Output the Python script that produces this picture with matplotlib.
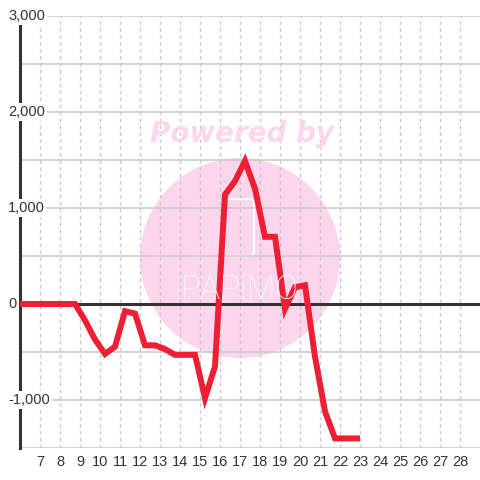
import matplotlib.pyplot as plt
from matplotlib.patches import Circle, FancyBboxPatch

plt.rcParams['font.family'] = ['Liberation Sans', 'DejaVu Sans']

# data (x in days, y values)
x = [5.75, 6.25, 6.75, 7.25, 7.75, 8.25, 8.75, 9.25, 9.75, 10.25, 10.75, 11.25, 11.75,
     12.25, 12.75, 13.25, 13.75, 14.25, 14.75, 15.25, 15.75, 16.25, 16.75, 17.25,
     17.75, 18.25, 18.75, 19.25, 19.75, 20.25, 20.75, 21.25, 21.75, 22.25, 22.85]
y = [0, 0, 0, 0, 0, 0, 0, -170, -370, -520, -445, -75, -100,
     -430, -430, -470, -530, -530, -530, -980, -650, 1140, 1280, 1490,
     1200, 700, 700, -50, 175, 195, -550, -1120, -1400, -1400, -1400]
x_ticks = list(range(7, 29))
y_ticks = [3000, 2000, 1000, 0, -1000]
y_labels = ['3,000', '2,000', '1,000', '0', '-1,000']

fig = plt.figure(figsize=(4.8, 4.8), dpi=100)
ax = fig.add_axes([20 / 480, 32 / 480, 460 / 480, 432 / 480])
ax.set_xlim(6, 29)
ax.set_ylim(-1500, 3000)

# watermark
ax.add_patch(Circle((2.4, 2.22), 1.0, transform=fig.dpi_scale_trans,
                    fc='#fcd6ec', ec='none', zorder=0.1, clip_on=False))
ax.add_patch(FancyBboxPatch((2.25, 2.24), 0.29, 0.57, boxstyle='round,pad=0,rounding_size=0.04',
                            transform=fig.dpi_scale_trans, fc='none', ec='white', lw=1.5,
                            zorder=0.2, clip_on=False))
fig.text(2.40 / 4.8, 1.90 / 4.8, 'PAPiMO', color='white', fontsize=24, ha='center',
         va='center', family=['Roboto', 'DejaVu Sans'], fontweight='light', zorder=0.2)
fig.text(2.42 / 4.8, 3.46 / 4.8, 'Powered by', color='#fcd6ec', fontsize=20,
         fontweight='bold', fontstyle='italic', family='DejaVu Sans', ha='center', va='center')

ax.set_axisbelow(True)
ax.yaxis.grid(True, color='#c8c8c8', lw=1.1, zorder=0.5)
ax.xaxis.grid(True, color='#c8c8c8', lw=1, ls=(0, (2.5, 2.5)), zorder=0.5)
ax.set_yticks([3000, 2500, 2000, 1500, 1000, 500, 0, -500, -1000, -1500])
ax.set_xticks(x_ticks)
ax.tick_params(axis='y', length=0, labelleft=False)
ax.tick_params(axis='x', length=0, pad=5, labelsize=10.5, labelcolor='#333333')

for s in ['top', 'right', 'bottom']:
    ax.spines[s].set_visible(False)
ax.spines['left'].set_color('#333333')
ax.spines['left'].set_linewidth(2.2)

ax.axhline(0, color='#333333', lw=2.2, zorder=2)
ax.plot(x, y, color='#ee1f35', lw=4.3, solid_joinstyle='miter', zorder=3)

for v, lab in zip(y_ticks, y_labels):
    ax.text(5.4, v, lab, ha='left', va='center', fontsize=10.5, color='#333333',
            bbox=dict(fc='white', ec='none', pad=1.5), zorder=10, clip_on=False)

plt.savefig('out.png', dpi=100)
